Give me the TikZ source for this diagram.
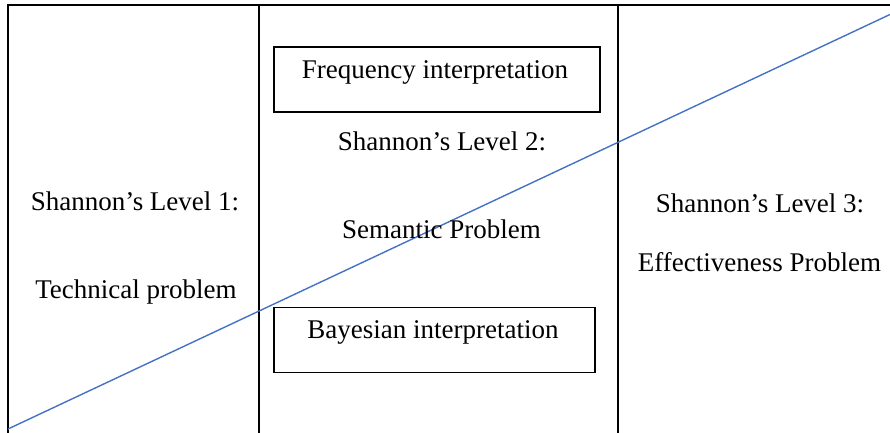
\documentclass[tikz,border=0pt]{standalone}
\usepackage{fontspec}
\setmainfont{Liberation Serif}
\definecolor{lineblue}{HTML}{4472C4}
\begin{document}
\begin{tikzpicture}[x=1pt,y=-1pt,
  frame/.style={draw=black,line width=1.3pt},
  boxnode/.style={draw=black,line width=1.3pt,rectangle,inner sep=0pt},
  lbl/.style={anchor=base,inner sep=0pt,font=\fontsize{27}{30}\selectfont},
  diag/.style={draw=lineblue,line width=1.4pt}]
\useasboundingbox (0,0) rectangle (890,432);
% frame
\coordinate (tl) at (8,5);
\coordinate (tr) at (891,5);
\coordinate (bl) at (8,433);
\coordinate (c1t) at (259,5);
\coordinate (c1b) at (259,433);
\coordinate (c2t) at (618,5);
\coordinate (c2b) at (618,433);
\draw[frame] (bl) -- (tl) -- (tr);
\draw[frame] (c1t) -- (c1b);
\draw[frame] (c2t) -- (c2b);
% boxes
\node[boxnode,minimum width=326pt,minimum height=65pt] (freqbox) at (437,79.5) {};
\node[boxnode,minimum width=321pt,minimum height=65pt] (bayesbox) at (434.5,340) {};
% diagonal
\coordinate (dstart) at (8,429);
\coordinate (dend) at (891,14);
\draw[diag] (dstart) -- (dend);
% texts
\node[lbl] (freq) at (435,78) {Frequency interpretation};
\node[lbl] (bayes) at (433,338) {Bayesian interpretation};
\node[lbl] (l2a) at (442,150) {Shannon’s Level 2:};
\node[lbl] (l2b) at (441.5,238) {Semantic Problem};
\node[lbl] (l1a) at (135,210) {Shannon’s Level 1:};
\node[lbl] (l1b) at (136,298) {Technical problem};
\node[lbl] (l3a) at (760,212) {Shannon’s Level 3:};
\node[lbl] (l3b) at (759.5,271) {Effectiveness Problem};
\end{tikzpicture}
\end{document}
